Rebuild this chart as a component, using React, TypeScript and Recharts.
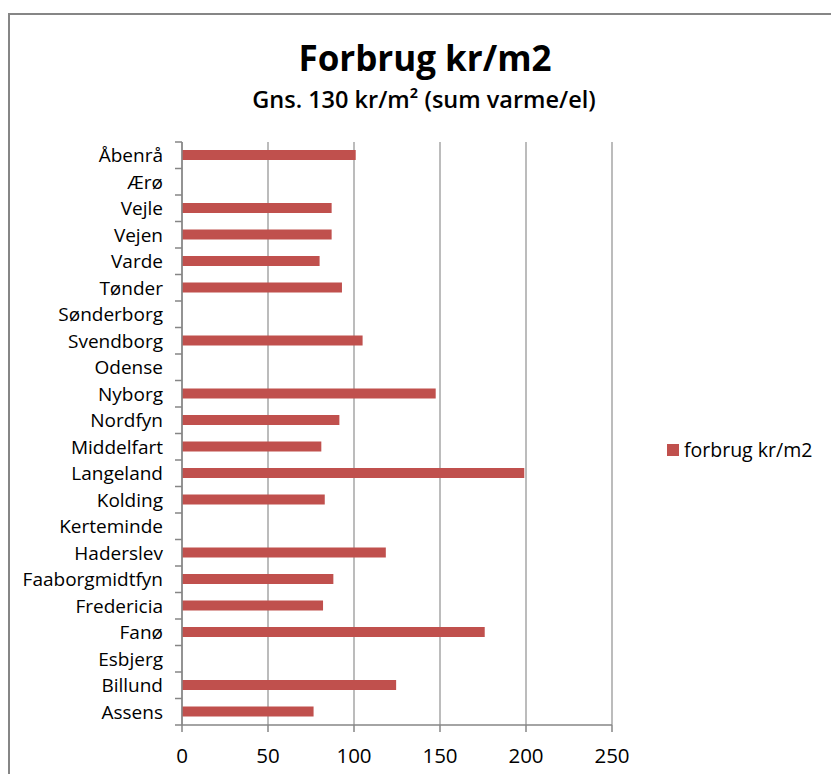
import { BarChart, Bar, XAxis, YAxis, CartesianGrid } from "recharts";

const municipalities = [
  "Åbenrå",
  "Ærø",
  "Vejle",
  "Vejen",
  "Varde",
  "Tønder",
  "Sønderborg",
  "Svendborg",
  "Odense",
  "Nyborg",
  "Nordfyn",
  "Middelfart",
  "Langeland",
  "Kolding",
  "Kerteminde",
  "Haderslev",
  "Faaborgmidtfyn",
  "Fredericia",
  "Fanø",
  "Esbjerg",
  "Billund",
  "Assens",
];

// null = no data for that kommune
const forbrug = [
  101, null, 87, 87, 80, 93, null, 105, null, 147.5, 91.5, 81, 199, 83, null,
  118.5, 88, 82, 176, null, 124.5, 76.5,
];

const xTicks = [0, 50, 100, 150, 200, 250];

const seriesName = "forbrug kr/m2";
const title = "Forbrug kr/m2";
const subtitle = "Gns. 130 kr/m² (sum varme/el)";

const FONT = "'Open Sans', sans-serif";
const BAR_COLOR = "#C0504D";
const AXIS_COLOR = "#868686";

const chartData = municipalities.map((name, i) => ({
  name,
  value: forbrug[i],
}));

function CategoryTick(props: any) {
  const { x, y, payload, index } = props;
  const half = payload.offset ?? 13.27;
  const lineX1 = x + 12;
  const lineX2 = x + 19;
  return (
    <g>
      <line x1={lineX1} x2={lineX2} y1={y - half} y2={y - half} stroke={AXIS_COLOR} strokeWidth={1.5} />
      {index === municipalities.length - 1 && (
        <line x1={lineX1} x2={lineX2} y1={y + half} y2={y + half} stroke={AXIS_COLOR} strokeWidth={1.5} />
      )}
      <text x={x} y={y} dy="0.36em" textAnchor="end" fontSize={19} fontFamily={FONT} fill="#000">
        {payload.value}
      </text>
    </g>
  );
}

export default function App() {
  return (
    <div style={{ position: "absolute", left: 0, top: 0, width: 831, height: 774, background: "#fff", overflow: "hidden" }}>
      <div
        style={{
          position: "absolute",
          left: 8,
          top: 13,
          width: 840,
          height: 800,
          borderTop: `2px solid ${AXIS_COLOR}`,
          borderLeft: `2px solid ${AXIS_COLOR}`,
        }}
      />
      <svg width={831} height={130} style={{ position: "absolute", left: 0, top: 0 }}>
        <text x={425} y={71} textAnchor="middle" fontFamily={FONT} fontWeight={700} fontSize={35} fill="#000">
          {title}
        </text>
        <text x={424} y={108} textAnchor="middle" fontFamily={FONT} fontWeight={600} fontSize={23.5} fill="#000">
          {subtitle}
        </text>
      </svg>
      <div style={{ position: "absolute", left: 0, top: 0 }}>
        <BarChart
          width={831}
          height={774}
          data={chartData}
          layout="vertical"
          margin={{ top: 142, right: 219, bottom: 19, left: 0 }}
          barSize={10}
        >
          <CartesianGrid horizontal={false} stroke="#a6a6a6" strokeWidth={1.5} />
          <XAxis
            type="number"
            domain={[0, 250]}
            ticks={xTicks}
            interval={0}
            height={30}
            tickSize={7}
            tickMargin={16}
            stroke={AXIS_COLOR}
            strokeWidth={1.5}
            tick={{ fill: "#000", fontSize: 20.5, fontFamily: FONT }}
          />
          <YAxis
            type="category"
            dataKey="name"
            width={182}
            interval={0}
            tickSize={7}
            tickMargin={12}
            tickLine={false}
            stroke={AXIS_COLOR}
            strokeWidth={1.5}
            tick={<CategoryTick />}
          />
          <Bar dataKey="value" name={seriesName} fill={BAR_COLOR} isAnimationActive={false} />
        </BarChart>
      </div>
      <div
        style={{
          position: "absolute",
          left: 667,
          top: 436,
          display: "flex",
          alignItems: "center",
          fontFamily: FONT,
          fontSize: 19.5,
          color: "#000",
        }}
      >
        <span style={{ display: "inline-block", width: 12, height: 12, background: BAR_COLOR, marginRight: 5 }} />
        {seriesName}
      </div>
    </div>
  );
}
